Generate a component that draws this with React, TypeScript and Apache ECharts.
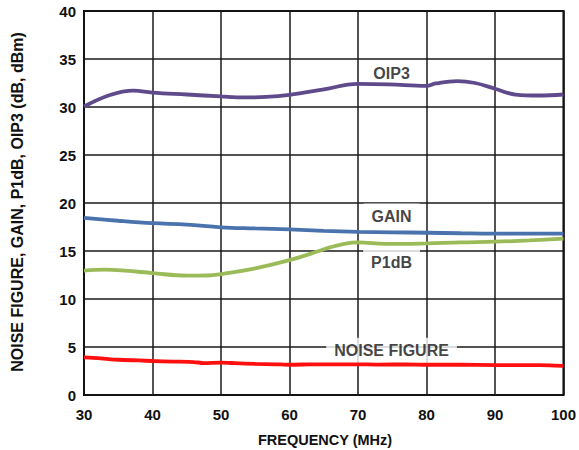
import React, { useEffect, useRef } from "react";
import * as echarts from "echarts";

const xTicks = [30, 40, 50, 60, 70, 80, 90, 100];
const yTicks = [0, 5, 10, 15, 20, 25, 30, 35, 40];

const oip3: [number, number][] = [
  [30, 30.05], [33.8, 31.25], [37.2, 31.7], [40, 31.5], [45, 31.3], [50, 31.1],
  [53.4, 31.0], [56.6, 31.05], [60, 31.27], [64.8, 31.8], [70, 32.4], [74.5, 32.35],
  [80, 32.2], [81.3, 32.45], [84.5, 32.7], [87.1, 32.5], [90, 31.9], [93, 31.3],
  [96.4, 31.2], [100, 31.3],
];
const gain: [number, number][] = [
  [30, 18.45], [35, 18.15], [40, 17.9], [45, 17.75], [50, 17.47], [55, 17.35],
  [60, 17.25], [65, 17.1], [70, 17.0], [75, 16.95], [80, 16.9], [85, 16.85],
  [90, 16.82], [95, 16.82], [100, 16.82],
];
const p1db: [number, number][] = [
  [30, 12.95], [33, 13.05], [36, 12.95], [40, 12.7], [45, 12.43], [48, 12.45],
  [50, 12.6], [55, 13.2], [60, 14.05], [64.3, 15.0], [66, 15.4], [68, 15.75],
  [70, 15.9], [74, 15.75], [77, 15.75], [80, 15.8], [85, 15.9], [90, 15.97],
  [95, 16.1], [100, 16.28],
];
const noise: [number, number][] = [
  [30, 3.92], [32, 3.85], [35, 3.67], [38, 3.6], [40, 3.54], [43, 3.48], [46, 3.43],
  [47.5, 3.33], [50, 3.37], [52, 3.32], [55, 3.24], [58, 3.2], [60, 3.15], [63, 3.19],
  [65, 3.2], [70, 3.2], [73, 3.16], [77, 3.19], [80, 3.15], [85, 3.15], [90, 3.12],
  [95, 3.12], [98, 3.09], [100, 3.03],
];
const seriesLabels: [number, number, string][] = [
  [74.9, 33.5, "OIP3"],
  [74.9, 18.6, "GAIN"],
  [74.9, 13.8, "P1dB"],
  [74.9, 4.6, "NOISE FIGURE"],
];

const FONT = "'Liberation Sans', Arial, Helvetica, sans-serif";

export default function App() {
  const ref = useRef<HTMLDivElement>(null);
  useEffect(() => {
    if (!ref.current) return;
    const chart = echarts.init(ref.current, null, { renderer: "svg" });
    const lineSeries = (name: string, data: [number, number][], color: string, smooth: boolean | number) => ({
      name,
      type: "line",
      data,
      smooth,
      symbol: "none",
      lineStyle: { color, width: 3.8 },
      z: 3,
    });
    chart.setOption({
      animation: false,
      backgroundColor: "#ffffff",
      textStyle: { fontFamily: FONT },
      grid: {
        left: 84, top: 11, width: 481, height: 384,
        show: true, borderColor: "#000", borderWidth: 2, backgroundColor: "transparent",
      },
      xAxis: {
        type: "value", min: xTicks[0], max: xTicks[xTicks.length - 1], interval: 10,
        axisLine: { show: false },
        axisTick: { show: false },
        splitLine: { show: true, lineStyle: { color: "#1a1a1a", width: 1.5 } },
        axisLabel: { color: "#111", fontSize: 15, fontWeight: "bold", fontFamily: FONT, margin: 12 },
      },
      yAxis: {
        type: "value", min: yTicks[0], max: yTicks[yTicks.length - 1], interval: 5,
        axisLine: { show: false },
        axisTick: { show: false },
        splitLine: { show: true, lineStyle: { color: "#1a1a1a", width: 1.5 } },
        axisLabel: { color: "#111", fontSize: 15, fontWeight: "bold", fontFamily: FONT, margin: 8 },
      },
      graphic: [
        {
          type: "text", x: 325, y: 440,
          style: {
            text: "FREQUENCY (MHz)", fill: "#111", font: `bold 14.5px ${FONT}`,
            align: "center", verticalAlign: "middle",
          },
        },
        {
          type: "text", x: 17, y: 202, rotation: Math.PI / 2,
          style: {
            text: "NOISE FIGURE, GAIN, P1dB, OIP3 (dB, dBm)", fill: "#111",
            font: `bold 16px ${FONT}`, align: "center", verticalAlign: "middle",
          },
        },
      ],
      series: [
        lineSeries("OIP3", oip3, "#5f4b8b", 0.4),
        lineSeries("GAIN", gain, "#4a73ae", 0.4),
        lineSeries("P1dB", p1db, "#9bbb59", 0.4),
        lineSeries("NOISE FIGURE", noise, "#ff1010", 0.2),
        {
          name: "labels",
          type: "scatter",
          symbolSize: 0,
          z: 2,
          data: seriesLabels.map((d) => ({ value: [d[0], d[1]], name: d[2] })),
          label: {
            show: true,
            position: "inside",
            formatter: (p: any) => p.name,
            color: "#111",
            fontSize: 16,
            fontWeight: "bold",
            fontFamily: FONT,
            backgroundColor: "#fff",
            padding: [5, 8],
          },
        },
      ],
    });
    return () => chart.dispose();
  }, []);
  return <div ref={ref} style={{ width: 579, height: 450, position: "fixed", left: 0, top: 0 }} />;
}
